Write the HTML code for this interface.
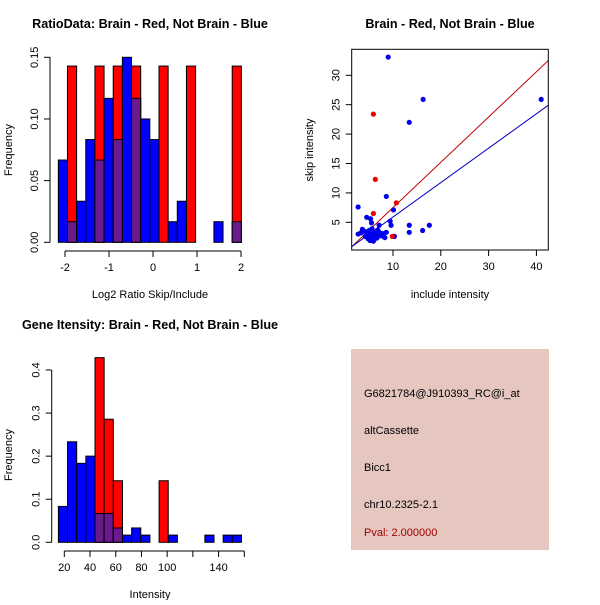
<!DOCTYPE html>
<html><head><meta charset="utf-8"><style>
body{margin:0;background:#fff}
svg text{font-family:"Liberation Sans",sans-serif;font-size:11px;fill:#000}
</style></head><body>
<svg id="c" width="600" height="600" xmlns="http://www.w3.org/2000/svg">
<rect x="0" y="0" width="600" height="600" fill="#fff"/>
<text x="150" y="28" text-anchor="middle" font-weight="bold" style="font-size:12.6px">RatioData: Brain - Red, Not Brain - Blue</text>
<text x="150" y="298" text-anchor="middle">Log2 Ratio Skip/Include</text>
<text transform="translate(12,150) rotate(-90)" text-anchor="middle">Frequency</text>
<text x="450" y="28" text-anchor="middle" font-weight="bold" style="font-size:12.6px">Brain - Red, Not Brain - Blue</text>
<text x="450" y="298" text-anchor="middle">include intensity</text>
<text transform="translate(313,150) rotate(-90)" text-anchor="middle">skip intensity</text>
<text x="150" y="329" text-anchor="middle" font-weight="bold" style="font-size:12.6px">Gene Itensity: Brain - Red, Not Brain - Blue</text>
<text x="150" y="598" text-anchor="middle">Intensity</text>
<text transform="translate(12,455) rotate(-90)" text-anchor="middle">Frequency</text>
<g>
<rect x="351" y="349" width="198" height="201" fill="#e5c7c0"/>
<text x="364" y="397">G6821784@J910393_RC@i_at</text>
<text x="364" y="434">altCassette</text>
<text x="364" y="471">Bicc1</text>
<text x="364" y="508">chr10.2325-2.1</text>
<text x="364" y="536" style="fill:#a00000">Pval: 2.000000</text>
</g>
</svg>
<script>
// Ratio histogram
const ratioStart = -2.152, ratioWidth = 0.208;
const ratioBlue = [0.0667,0.0167,0.0333,0.0833,0.0667,0.1167,0.0833,0.15,0.1167,0.1,0.0833,0,0.0167,0.0333,0,0,0,0.0167,0,0.0167];
const ratioRed = [0,0.1429,0,0,0.1429,0,0.1429,0,0.1429,0,0,0.1429,0,0,0.1429,0,0,0,0,0.1429];
const ratioXTicks = [-2,-1,0,1,2];
const ratioYTicks = ["0.00","0.05","0.10","0.15"];
// Intensity histogram
const intStart = 15.4, intWidth = 7.12;
const intBlue = [0.0833,0.2333,0.1833,0.2,0.0667,0.0667,0.0333,0.0167,0.0333,0.0167,0,0,0.0167,0,0,0,0.0167,0,0.0167,0.0167];
const intRed = [0,0,0,0,0.4286,0.2857,0.1429,0,0,0,0,0.1429,0,0,0,0,0,0,0,0];
const intXTicks = [20,40,60,80,100,120,140,160];
const intXLabels = ["20","40","60","80","100","","140",""];
const intYTicks = ["0.0","0.1","0.2","0.3","0.4"];
// Scatter
const blueX = [9.0,16.3,41.0,13.4,8.6,2.7,10.1,9.4,9.6,13.4,17.6,13.4,16.2,10.3,8.6,4.5,5.3,5.5,7.1,2.7,3.6,4.0,4.5,5.0,5.5,6.0,6.5,7.0,7.5,8.0,4.8,5.2,5.8,6.3,6.8,5.0,5.6,6.1,4.2,3.3,7.8,8.3,5.4,6.6,4.9,5.9,7.3];
const blueY = [33.1,25.9,25.9,22.0,9.4,7.6,7.1,5.2,4.5,4.5,4.5,3.3,3.6,2.6,3.3,5.85,5.6,4.9,4.5,3.0,3.8,3.5,3.2,2.8,2.5,3.0,2.7,3.4,2.9,2.6,2.2,1.9,2.1,2.4,3.7,3.6,3.9,3.3,2.6,3.2,3.1,2.4,2.9,2.3,3.0,1.8,2.7];
const redX = [5.9,6.3,5.9,10.7,9.85];
const redY = [23.4,12.3,6.5,8.3,2.6];
const redFit = [-0.2,0.77];
const blueFit = [0.05,0.585];
const scXTicks = [10,20,30,40];
const scYTicks = [5,10,15,20,25,30];

const svg = document.getElementById('c');
const NS = 'http://www.w3.org/2000/svg';
function mk(tag, attrs, parent){const e=document.createElementNS(NS,tag);for(const k in attrs)e.setAttribute(k,attrs[k]);(parent||svg).appendChild(e);return e;}

function hist(cfg){
  const g = mk('g',{});
  
  
  const X = v => cfg.x0 + cfg.xs*(v-cfg.xv0);
  const Y = v => cfg.y0 - cfg.ys*v;
  for(let i=0;i<cfg.blue.length;i++){
    const l = X(cfg.start+i*cfg.width), r = X(cfg.start+(i+1)*cfg.width);
    const b = cfg.blue[i], rd = cfg.red[i];
    if(b>0){const e=mk('rect',{x:l,y:Y(b),width:r-l,height:Y(0)-Y(b),fill:'#0000ff',stroke:'#000','stroke-width':1},g);
      
      }
    if(rd>0){const e=mk('rect',{x:l,y:Y(rd),width:r-l,height:Y(0)-Y(rd),fill:'#ff0000',stroke:'#000','stroke-width':1},g);
      
      }
    const m = Math.min(b,rd);
    if(m>0){const e=mk('rect',{x:l,y:Y(m),width:r-l,height:Y(0)-Y(m),fill:'#6a1a8c',stroke:'#000','stroke-width':1},g);
      
      }
  }
  const ty = cfg.axisY;
  mk('line',{x1:X(cfg.xt[0]),x2:X(cfg.xt[cfg.xt.length-1]),y1:ty,y2:ty,stroke:'#000'},g);
  cfg.xt.forEach((v,i)=>{mk('line',{x1:X(v),x2:X(v),y1:ty,y2:ty+6,stroke:'#000'},g);
    const t=mk('text',{x:X(v),y:ty+20,'text-anchor':'middle'},g);t.textContent=cfg.xl[i];
    
    });
  const ax = cfg.yAxisX;
  const yv = cfg.yt.map(Number);
  mk('line',{x1:ax,x2:ax,y1:Y(yv[0]),y2:Y(yv[yv.length-1]),stroke:'#000'},g);
  cfg.yt.forEach(s=>{const v=Number(s);mk('line',{x1:ax-6,x2:ax,y1:Y(v),y2:Y(v),stroke:'#000'},g);
    const t=mk('text',{transform:`translate(${ax-12},${Y(v)}) rotate(-90)`,'text-anchor':'middle'},g);t.textContent=s;
    
    });
}
hist({name:'ratio-histogram',x0:65,xs:44,xv0:-2,y0:242.3,ys:185/0.15,start:ratioStart,width:ratioWidth,blue:ratioBlue,red:ratioRed,axisY:251,xt:ratioXTicks,xl:ratioXTicks.map(String),yAxisX:50,yt:ratioYTicks});
hist({name:'intensity-histogram',x0:64.3,xs:1.2857,xv0:20,y0:542.3,ys:430.8,start:intStart,width:intWidth,blue:intBlue,red:intRed,axisY:551,xt:intXTicks,xl:intXLabels,yAxisX:51.7,yt:intYTicks});

const sg = mk('g',{});


const L=351.7,R=548.3,T=49.3,B=250;
const SX = v => 393 + 4.78*(v-10);
const SY = v => 222.3 - 5.88*(v-5);
const clip = mk('clipPath',{id:'sc'},sg); mk('rect',{x:L,y:T,width:R-L,height:B-T},clip);
const xl0 = 1.36, xl1 = 42.5;
[[redFit,'#c00000','red-fit-line'],[blueFit,'#0000c0','blue-fit-line']].forEach(([f,c,n])=>{
  const e=mk('line',{x1:SX(xl0),y1:SY(f[0]+f[1]*xl0),x2:SX(xl1),y2:SY(f[0]+f[1]*xl1),stroke:c,'clip-path':'url(#sc)'},sg);
  
  
});
blueX.forEach((x,i)=>{const e=mk('circle',{cx:SX(x),cy:SY(blueY[i]),r:2.6,fill:'#0000ee'},sg);
  
  });
redX.forEach((x,i)=>{const e=mk('circle',{cx:SX(x),cy:SY(redY[i]),r:2.6,fill:'#ee0000'},sg);
  
  });
mk('rect',{x:L,y:T,width:R-L,height:B-T,fill:'none',stroke:'#000'},sg);
scXTicks.forEach(v=>{mk('line',{x1:SX(v),x2:SX(v),y1:B,y2:B+6,stroke:'#000'},sg);
  const t=mk('text',{x:SX(v),y:B+20,'text-anchor':'middle'},sg);t.textContent=v;
  
  });
scYTicks.forEach(v=>{mk('line',{x1:L-6,x2:L,y1:SY(v),y2:SY(v),stroke:'#000'},sg);
  const t=mk('text',{transform:`translate(${L-12},${SY(v)}) rotate(-90)`,'text-anchor':'middle'},sg);t.textContent=v;
  
  });
</script>
</body></html>
